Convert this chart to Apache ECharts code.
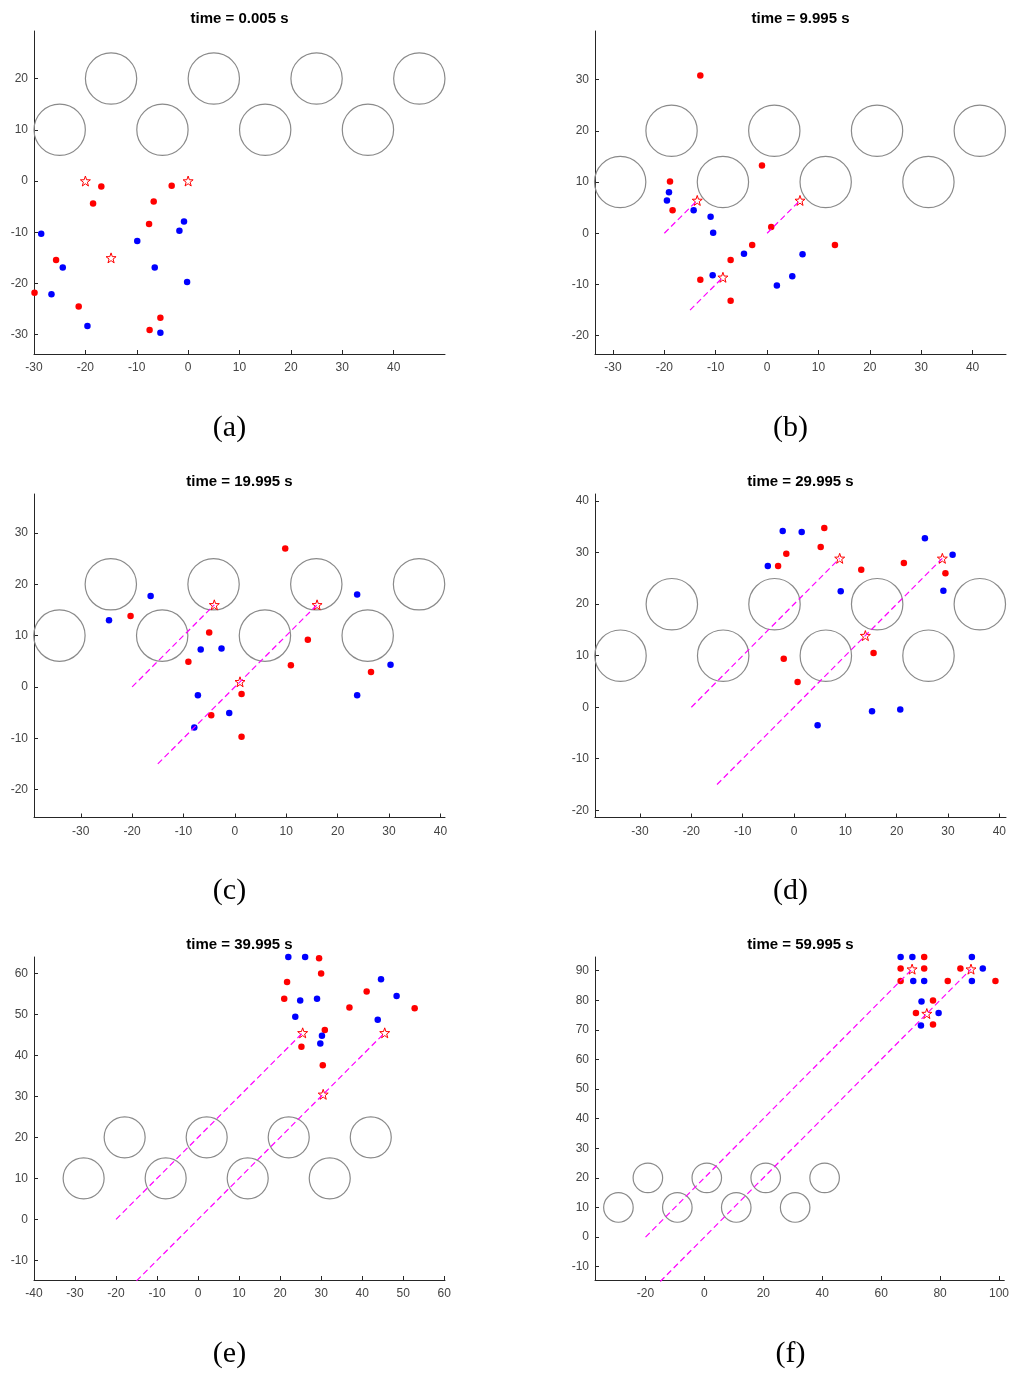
<!DOCTYPE html>
<html>
<head>
<meta charset="utf-8">
<title>Formation snapshots</title>
<script src="https://cdn.jsdelivr.net/npm/echarts@6/dist/echarts.min.js"></script>
<style>
  html, body { margin: 0; padding: 0; background: #ffffff; }
  #chart { width: 1012px; height: 1374px; }
</style>
</head>
<body>
<div id="chart"></div>
<script>
// ---- snapshot data -------------------------------------------------------
const panelTitles = ['time = 0.005 s', 'time = 9.995 s', 'time = 19.995 s',
                     'time = 29.995 s', 'time = 39.995 s', 'time = 59.995 s'];
const panelLabels = ['(a)', '(b)', '(c)', '(d)', '(e)', '(f)'];

// obstacle radius and centres [x, y]
const obstacleRadius = 5;
const obstaclesA = [[-15,20],[5,20],[25,20],[45,20],[-25,10],[-5,10],[15,10],[35,10]];
const obstaclesB = [[-18.6,20],[1.4,20],[21.4,20],[41.4,20],[-28.6,10],[-8.6,10],[11.4,10],[31.4,10]];
const obstaclesC = [[-24.15,20],[-4.15,20],[15.85,20],[35.85,20],[-34.15,10],[-14.15,10],[5.85,10],[25.85,10]];
const obstaclesD = [[-23.8,20],[-3.8,20],[16.2,20],[36.2,20],[-33.8,10],[-13.8,10],[6.2,10],[26.2,10]];
const obstaclesE = [[-17.9,20],[2.1,20],[22.1,20],[42.1,20],[-27.9,10],[-7.9,10],[12.1,10],[32.1,10]];
const obstaclesF = [[-19.2,20],[0.8,20],[20.8,20],[40.8,20],[-29.2,10],[-9.2,10],[10.8,10],[30.8,10]];

// leader starting points (the dashed paths begin here)
const leaderStarts = [[-20,0],[0,0],[-15,-15]];

// leader positions at each snapshot
const leadersA = [[-20,0],[0,0],[-15,-15]];
const leadersB = [[-13.6,6.4],[6.4,6.4],[-8.6,-8.6]];
const leadersC = [[-4,16],[16,16],[1,1]];
const leadersD = [[8.9,28.9],[28.9,28.9],[13.9,13.9]];
const leadersE = [[25.5,45.5],[45.5,45.5],[30.5,30.5]];
const leadersF = [[70.5,90.5],[90.5,90.5],[75.5,75.5]];

// red followers
const redA = [[-16.9,-1.05],[-18.5,-4.4],[-3.2,-0.9],[-6.7,-4.0],[-7.6,-8.4],[-25.7,-15.4],[-29.9,-21.8],[-21.3,-24.5],[-5.4,-26.7],[-7.5,-29.1]];
const redB = [[-13.0,30.8],[-1.0,13.2],[-18.9,10.1],[-18.4,4.5],[0.8,1.2],[-2.9,-2.3],[13.2,-2.3],[-7.1,-5.2],[-13.0,-9.1],[-7.1,-13.2]];
const redC = [[9.8,27.0],[-20.3,13.8],[-5.0,10.6],[14.2,9.2],[-9.05,4.9],[10.9,4.2],[26.5,2.9],[1.3,-1.4],[-4.6,-5.5],[1.3,-9.7]];
const redD = [[5.9,34.8],[5.2,31.1],[-1.5,29.8],[-3.1,27.4],[13.1,26.7],[21.4,28.0],[29.5,26.0],[-2.0,9.4],[15.5,10.5],[0.7,4.9]];
const redE = [[29.5,63.7],[30.0,60.0],[21.7,57.9],[21.0,53.8],[41.1,55.6],[36.9,51.7],[52.8,51.5],[30.9,46.2],[25.2,42.1],[30.4,37.6]];
const redF = [[74.6,94.6],[66.6,90.7],[74.6,90.7],[66.6,86.5],[86.9,90.7],[82.6,86.5],[98.8,86.5],[77.6,79.9],[71.8,75.7],[77.6,71.8]];

// blue followers
const blueA = [[-28.6,-10.3],[-0.8,-7.9],[-1.7,-9.7],[-9.9,-11.7],[-24.4,-16.9],[-6.5,-16.9],[-0.2,-19.7],[-26.6,-22.1],[-19.6,-28.3],[-5.4,-29.6]];
const blueB = [[-19.1,8.0],[-19.5,6.4],[-14.3,4.5],[-11.0,3.2],[-10.5,0.1],[-4.5,-4.0],[6.9,-4.1],[-10.6,-8.2],[4.9,-8.4],[1.9,-10.2]];
const blueC = [[-16.4,17.7],[23.8,18.0],[-24.5,13.0],[-6.65,7.3],[-2.6,7.5],[30.3,4.3],[-7.2,-1.6],[23.8,-1.6],[-1.1,-5.1],[-7.9,-7.9]];
const blueD = [[-2.2,34.2],[1.5,34.0],[25.5,32.8],[30.9,29.6],[-5.1,27.4],[9.1,22.5],[29.1,22.6],[15.2,-0.8],[20.7,-0.45],[4.6,-3.5]];
const blueE = [[22.0,64.0],[26.1,64.0],[44.6,58.6],[48.4,54.5],[29.0,53.8],[24.9,53.4],[23.7,49.4],[43.8,48.7],[30.2,44.8],[29.8,42.9]];
const blueF = [[66.6,94.6],[70.6,94.6],[90.8,94.6],[94.5,90.7],[70.9,86.5],[74.6,86.5],[90.8,86.5],[73.7,79.6],[79.5,75.7],[73.5,71.5]];

// tick values
const xTicksA = [-30,-20,-10,0,10,20,30,40];
const yTicksA = [-30,-20,-10,0,10,20];
const xTicksB = [-30,-20,-10,0,10,20,30,40];
const yTicksB = [-20,-10,0,10,20,30];
const xTicksC = [-30,-20,-10,0,10,20,30,40];
const yTicksC = [-20,-10,0,10,20,30];
const xTicksD = [-30,-20,-10,0,10,20,30,40];
const yTicksD = [-20,-10,0,10,20,30,40];
const xTicksE = [-40,-30,-20,-10,0,10,20,30,40,50,60];
const yTicksE = [-10,0,10,20,30,40,50,60];
const xTicksF = [-20,0,20,40,60,80,100];
const yTicksF = [-10,0,10,20,30,40,50,60,70,80,90];

// ---- layout ----------------------------------------------------------------
const layout = [
  { left: 34,  top: 31,  width: 411, height: 323,   xMin: -30,    xMax: 50,    yMin: -33.76, yMax: 29.28 },
  { left: 595, top: 31,  width: 411, height: 323,   xMin: -33.5,  xMax: 46.5,  yMin: -23.57, yMax: 39.47 },
  { left: 34,  top: 494, width: 411, height: 323.5, xMin: -39.1,  xMax: 40.9,  yMin: -25.45, yMax: 37.6 },
  { left: 595, top: 494, width: 411, height: 323.5, xMin: -38.77, xMax: 41.3,  yMin: -21.41, yMax: 41.39 },
  { left: 34,  top: 957, width: 411, height: 323,   xMin: -40,    xMax: 60.2,  yMin: -14.8,  yMax: 64.0 },
  { left: 595, top: 957, width: 411, height: 323,   xMin: -37.15, xMax: 101.8, yMin: -14.5,  yMax: 94.6 }
];

const panels = [
  { obstacles: obstaclesA, leaders: leadersA, red: redA, blue: blueA, xTicks: xTicksA, yTicks: yTicksA },
  { obstacles: obstaclesB, leaders: leadersB, red: redB, blue: blueB, xTicks: xTicksB, yTicks: yTicksB },
  { obstacles: obstaclesC, leaders: leadersC, red: redC, blue: blueC, xTicks: xTicksC, yTicks: yTicksC },
  { obstacles: obstaclesD, leaders: leadersD, red: redD, blue: blueD, xTicks: xTicksD, yTicks: yTicksD },
  { obstacles: obstaclesE, leaders: leadersE, red: redE, blue: blueE, xTicks: xTicksE, yTicks: yTicksE },
  { obstacles: obstaclesF, leaders: leadersF, red: redF, blue: blueF, xTicks: xTicksF, yTicks: yTicksF }
];

const axisColor = '#262626';
const labelColor = '#444444';
const pathColor = '#ff00ff';
const sansFont = '"Liberation Sans", Arial, Helvetica, sans-serif';
const starPath = 'path://M0,-10 L2.35,-3.24 L9.51,-3.09 L3.8,1.24 L5.88,8.09 L0,4 L-5.88,8.09 L-3.8,1.24 L-9.51,-3.09 L-2.35,-3.24 Z';

// Leaders travel along 45-degree lines; paths that share a line and overlap
// are joined into one segment so the dashes stay continuous.
function mergePaths(starts, ends) {
  const groups = {};
  starts.forEach((s, k) => {
    const key = (s[1] - s[0]).toFixed(3);
    (groups[key] = groups[key] || []).push([s, ends[k]]);
  });
  const out = [];
  Object.values(groups).forEach(segs => {
    segs.sort((a, b) => a[0][0] - b[0][0]);
    let cur = segs[0].slice();
    for (let j = 1; j < segs.length; j++) {
      const sg = segs[j];
      if (sg[0][0] <= cur[1][0]) {
        if (sg[1][0] > cur[1][0]) cur[1] = sg[1];
      } else {
        out.push(cur);
        cur = sg.slice();
      }
    }
    out.push(cur);
  });
  return out;
}

const grid = [], xAxis = [], yAxis = [], series = [], graphic = [];

panels.forEach((p, i) => {
  const L = layout[i];
  grid.push({ left: L.left, top: L.top, width: L.width, height: L.height, containLabel: false });

  xAxis.push({
    type: 'value', gridIndex: i, min: L.xMin, max: L.xMax,
    axisLine: { show: true, onZero: false, lineStyle: { color: axisColor, width: 1 } },
    axisTick: { show: true, inside: true, length: 4, customValues: p.xTicks, lineStyle: { color: axisColor } },
    axisLabel: { customValues: p.xTicks, color: labelColor, fontSize: 12, fontFamily: sansFont, margin: 8 },
    splitLine: { show: false }
  });
  yAxis.push({
    type: 'value', gridIndex: i, min: L.yMin, max: L.yMax,
    axisLine: { show: true, onZero: false, lineStyle: { color: axisColor, width: 1 } },
    axisTick: { show: true, inside: true, length: 4, customValues: p.yTicks, lineStyle: { color: axisColor } },
    axisLabel: { customValues: p.yTicks, color: labelColor, fontSize: 12, fontFamily: sansFont, margin: 6 },
    splitLine: { show: false }
  });

  // circular obstacles, radius given in data units
  series.push({
    type: 'custom', xAxisIndex: i, yAxisIndex: i, clip: false, silent: true,
    data: p.obstacles.map(c => [c[0], c[1], obstacleRadius]),
    encode: { x: 0, y: 1 },
    renderItem: (params, api) => {
      const c = api.coord([api.value(0), api.value(1)]);
      const s = api.size([api.value(2), api.value(2)]);
      return {
        type: 'circle',
        shape: { cx: c[0], cy: c[1], r: (s[0] + s[1]) / 2 },
        style: { fill: 'none', stroke: '#8a8a8a', lineWidth: 1.2 }
      };
    }
  });

  // dashed leader paths
  mergePaths(leaderStarts, p.leaders).forEach(seg => {
    series.push({
      type: 'line', xAxisIndex: i, yAxisIndex: i, silent: true,
      symbol: 'none', clip: false, color: pathColor,
      data: seg,
      itemStyle: { color: pathColor },
      lineStyle: { color: pathColor, width: 1.2, type: [6, 3.5] }
    });
  });

  series.push({
    type: 'scatter', xAxisIndex: i, yAxisIndex: i, clip: false, silent: true,
    symbol: 'circle', symbolSize: 6.5,
    itemStyle: { color: '#ff0000', opacity: 1 },
    data: p.red
  });
  series.push({
    type: 'scatter', xAxisIndex: i, yAxisIndex: i, clip: false, silent: true,
    symbol: 'circle', symbolSize: 6.5,
    itemStyle: { color: '#0000ff', opacity: 1 },
    data: p.blue
  });
  series.push({
    type: 'scatter', xAxisIndex: i, yAxisIndex: i, clip: false, silent: true,
    symbol: starPath, symbolSize: 10,
    itemStyle: { color: 'rgba(255,255,255,0)', borderColor: '#ff0000', borderWidth: 1, opacity: 1 },
    data: p.leaders
  });

  const cx = L.left + L.width / 2;
  graphic.push({
    type: 'text', x: cx, y: L.top - 12.5,
    style: {
      text: panelTitles[i], fill: '#000000', font: 'bold 15px ' + sansFont,
      textAlign: 'center', textVerticalAlign: 'middle'
    }
  });
  graphic.push({
    type: 'text', x: cx - 10, y: L.top + L.height + 74,
    style: {
      text: panelLabels[i], fill: '#000000', font: '30px "Liberation Serif", "Times New Roman", serif',
      textAlign: 'center', textVerticalAlign: 'middle'
    }
  });
});

const chart = echarts.init(document.getElementById('chart'), null, { renderer: 'canvas' });
chart.setOption({
  animation: false,
  backgroundColor: '#ffffff',
  grid, xAxis, yAxis, series, graphic
});
</script>
</body>
</html>
